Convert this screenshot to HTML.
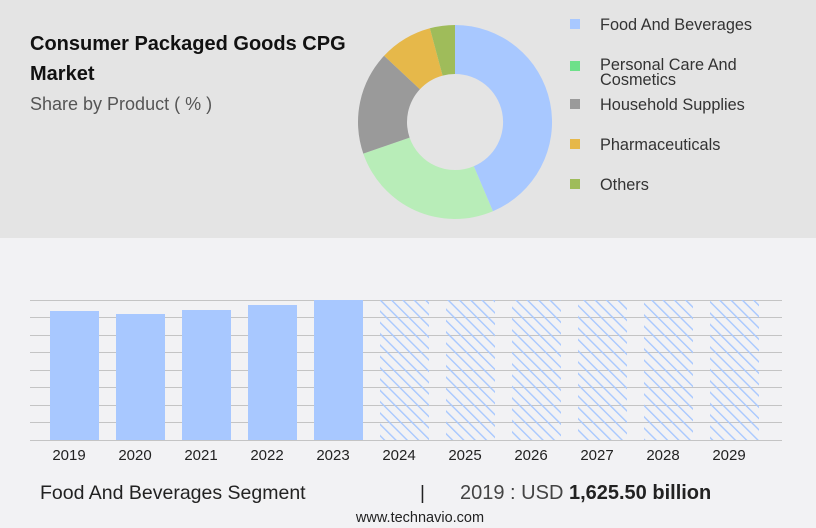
<!DOCTYPE html>
<html><head><meta charset="utf-8"><style>
body{margin:0;width:816px;height:528px;overflow:hidden;font-family:"Liberation Sans",sans-serif;background:#f2f2f4;}
</style></head><body>
<svg width="816" height="528" xmlns="http://www.w3.org/2000/svg" style="position:absolute;left:0;top:0">
<defs><pattern id="h" patternUnits="userSpaceOnUse" width="8" height="8" patternTransform="rotate(-45)">
<rect x="0" y="0" width="1.4" height="8" fill="#a8c8ff"/></pattern></defs>
<rect width="816" height="238" fill="#e4e4e4"/>
<text x="30" y="50" font-size="20" font-weight="bold" fill="#111">Consumer Packaged Goods CPG</text>
<text x="30" y="80" font-size="20" font-weight="bold" fill="#111">Market</text>
<text x="30" y="110" font-size="18" fill="#555">Share by Product ( % )</text>
<g transform="translate(455,122)">
<path d="M0,-97 A97,97 0 0,1 37.9,89.3 L18.8,44.2 A48,48 0 0,0 0,-48Z" fill="#a8c8ff"/>
<path d="M37.9,89.3 A97,97 0 0,1 -91.7,31.6 L-45.4,15.6 A48,48 0 0,0 18.8,44.2Z" fill="#b8edb8"/>
<path d="M-91.7,31.6 A97,97 0 0,1 -70.9,-66.2 L-35.1,-32.7 A48,48 0 0,0 -45.4,15.6Z" fill="#9a9a9a"/>
<path d="M-70.9,-66.2 A97,97 0 0,1 -25.1,-93.7 L-12.4,-46.4 A48,48 0 0,0 -35.1,-32.7Z" fill="#e6b84a"/>
<path d="M-25.1,-93.7 A97,97 0 0,1 0,-97 L0,-48 A48,48 0 0,0 -12.4,-46.4Z" fill="#9fbc5a"/>
</g>
<g font-size="16.3" fill="#333">
<rect x="570" y="19" width="10" height="10" fill="#a8c8ff"/><text x="600" y="30">Food And Beverages</text>
<rect x="570" y="61" width="10" height="10" fill="#6ee08a"/><text x="600" y="70">Personal Care And</text><text x="600" y="85">Cosmetics</text>
<rect x="570" y="99" width="10" height="10" fill="#9a9a9a"/><text x="600" y="110">Household Supplies</text>
<rect x="570" y="139" width="10" height="10" fill="#e6b84a"/><text x="600" y="150">Pharmaceuticals</text>
<rect x="570" y="179" width="10" height="10" fill="#9fbc5a"/><text x="600" y="190">Others</text>
</g>
<g stroke="#c4c4c4" stroke-width="1">
<line x1="30" x2="782" y1="300.5" y2="300.5"/><line x1="30" x2="782" y1="317.5" y2="317.5"/>
<line x1="30" x2="782" y1="335.5" y2="335.5"/><line x1="30" x2="782" y1="352.5" y2="352.5"/>
<line x1="30" x2="782" y1="370.5" y2="370.5"/><line x1="30" x2="782" y1="387.5" y2="387.5"/>
<line x1="30" x2="782" y1="405.5" y2="405.5"/><line x1="30" x2="782" y1="422.5" y2="422.5"/>
<line x1="30" x2="782" y1="440.5" y2="440.5"/>
</g>
<g fill="#a8c8ff">
<rect x="50" y="311" width="49" height="129"/><rect x="116" y="314" width="49" height="126"/>
<rect x="182" y="310" width="49" height="130"/><rect x="248" y="305" width="49" height="135"/>
<rect x="314" y="300" width="49" height="140"/>
</g>
<g fill="url(#h)">
<rect x="380" y="300" width="49" height="140"/><rect x="446" y="300" width="49" height="140"/>
<rect x="512" y="300" width="49" height="140"/><rect x="578" y="300" width="49" height="140"/>
<rect x="644" y="300" width="49" height="140"/><rect x="710" y="300" width="49" height="140"/>
</g>
<g font-size="15" fill="#222" text-anchor="middle">
<text x="69" y="460">2019</text><text x="135" y="460">2020</text><text x="201" y="460">2021</text>
<text x="267" y="460">2022</text><text x="333" y="460">2023</text><text x="399" y="460">2024</text>
<text x="465" y="460">2025</text><text x="531" y="460">2026</text><text x="597" y="460">2027</text>
<text x="663" y="460">2028</text><text x="729" y="460">2029</text>
</g>
<text x="40" y="499" font-size="19.5" fill="#222">Food And Beverages Segment</text>
<text x="420" y="499" font-size="19" fill="#222">|</text>
<text x="460" y="499" font-size="20" fill="#444">2019 : USD <tspan font-weight="bold" fill="#222">1,625.50 billion</tspan></text>
<text x="420" y="522" font-size="14.5" fill="#222" text-anchor="middle">www.technavio.com</text>
</svg>
</body></html>
